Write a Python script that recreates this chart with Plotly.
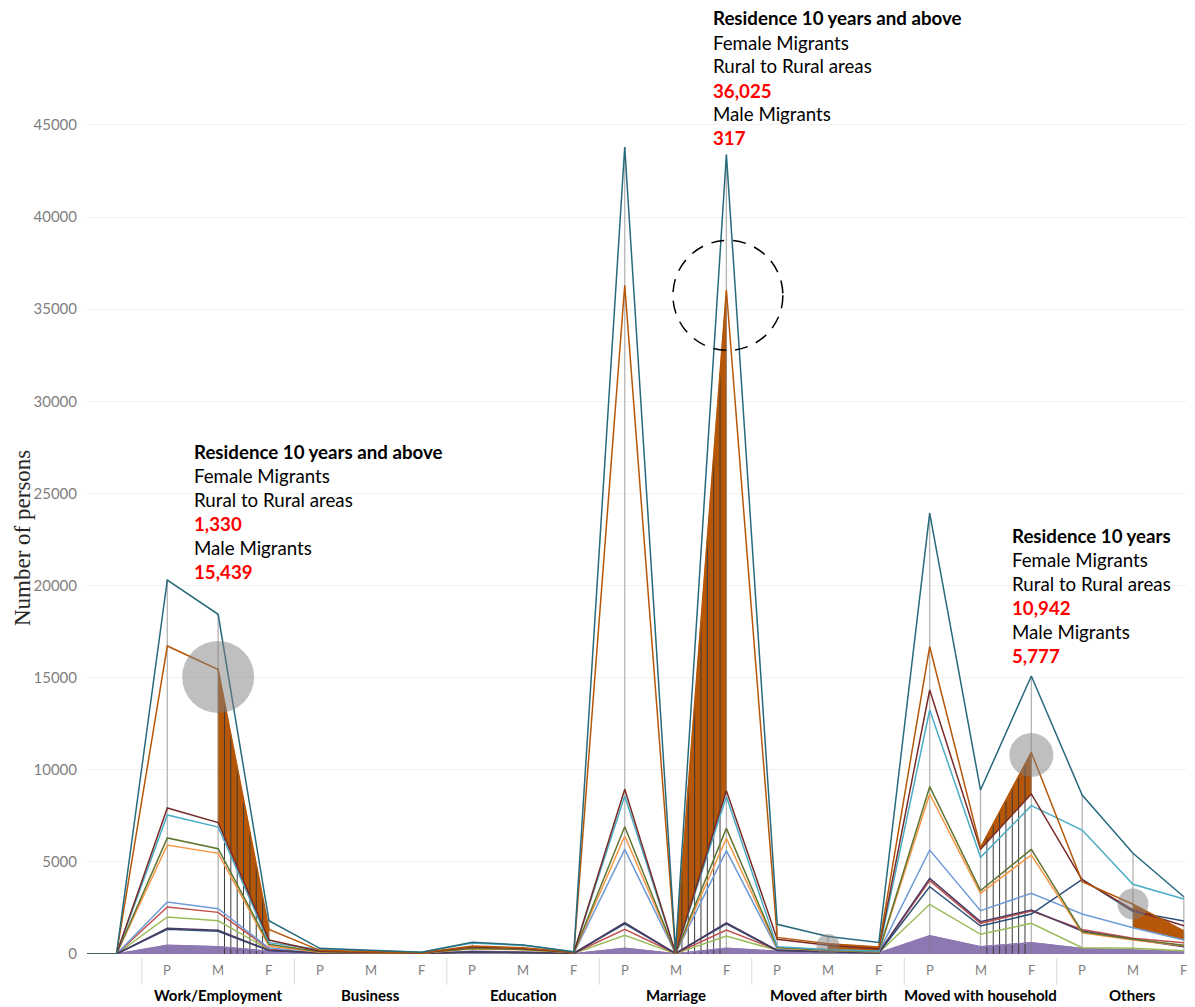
import plotly.graph_objects as go

# ---------------- data ----------------
groups = ["Work/Employment", "Business", "Education", "Marriage",
          "Moved after birth", "Moved with household", "Others"]
subs = ["P", "M", "F"]
y_ticks = [0, 5000, 10000, 15000, 20000, 25000, 30000, 35000, 40000, 45000]

# values for P, M, F of each group (21 positions)
dark_aqua = [20300, 18440, 1810, 310, 200, 100, 640, 490, 120, 43800, 150, 43400,
             1610, 950, 630, 23930, 8900, 15090, 8630, 5466, 3110]
dark_orange = [16720, 15439, 1330, 200, 120, 70, 430, 340, 100, 36300, 60, 36025,
               900, 560, 380, 16680, 5777, 10942, 3926, 2700, 1250]
dark_red = [7925, 7130, 760, 150, 100, 60, 380, 300, 90, 8940, 50, 8865,
            800, 470, 270, 14330, 5683, 8685, 4017, 2390, 1537]
aqua = [7545, 6890, 615, 250, 170, 90, 600, 470, 110, 8577, 50, 8540,
        400, 250, 150, 13244, 5249, 8050, 6730, 3783, 2983]
dark_green = [6300, 5715, 525, 120, 80, 50, 300, 250, 80, 6910, 40, 6820,
              350, 200, 120, 9081, 3437, 5683, 1200, 800, 480]
orange = [5917, 5465, 430, 100, 70, 40, 280, 230, 70, 6406, 40, 6280,
          330, 190, 110, 8684, 3294, 5374, 1150, 760, 450]
blue = [2823, 2460, 320, 80, 60, 30, 150, 120, 50, 5683, 30, 5607,
        250, 150, 100, 5645, 2352, 3294, 2171, 1430, 760]
red = [2550, 2260, 280, 70, 50, 30, 130, 110, 40, 1340, 30, 1300,
       220, 130, 80, 3980, 1666, 2334, 1330, 850, 614]
green = [2010, 1800, 240, 50, 40, 20, 100, 80, 30, 1015, 20, 977,
         200, 120, 70, 2697, 1069, 1666, 344, 310, 180]
dark_purple = [1400, 1290, 200, 60, 40, 20, 120, 100, 40, 1700, 30, 1690,
               200, 120, 70, 4108, 1755, 2388, 1250, 800, 397]
dark_blue = [1340, 1230, 190, 55, 40, 20, 110, 90, 40, 1640, 30, 1640,
             190, 110, 60, 3654, 1520, 2171, 4054, 2300, 1791]
purple = [470, 400, 150, 30, 20, 10, 60, 50, 20, 310, 20, 310,
          150, 100, 60, 994, 400, 614, 300, 220, 120]

# annotation texts
notes = [
    ["Residence 10 years and above", "Female Migrants", "Rural to Rural areas",
     "1,330", "Male Migrants", "15,439"],
    ["Residence 10 years and above", "Female Migrants", "Rural to Rural areas",
     "36,025", "Male Migrants", "317"],
    ["Residence 10 years", "Female Migrants", "Rural to Rural areas",
     "10,942", "Male Migrants", "5,777"],
]

# ---------------- styling / layout helpers ----------------
lines = [
    ("purple", purple, "#8E78B2"),
    ("green", green, "#9BBB59"),
    ("red", red, "#C0504D"),
    ("blue", blue, "#6F9BD6"),
    ("dark_blue", dark_blue, "#2C4D75"),
    ("dark_purple", dark_purple, "#4D3B62"),
    ("orange", orange, "#F79646"),
    ("dark_green", dark_green, "#5F7530"),
    ("aqua", aqua, "#4BACC6"),
    ("dark_red", dark_red, "#772C2A"),
    ("dark_orange", dark_orange, "#B65708"),
    ("dark_aqua", dark_aqua, "#276A7C"),
]
series = {name: vals for name, vals, _ in lines}

n = len(groups) * 3
xs = list(range(n))
lead_x = [-3, -1]

fig = go.Figure()

# purple area at the bottom
fig.add_trace(go.Scatter(x=lead_x + xs, y=[0, 0] + purple, mode="lines",
                         fill="tozeroy", fillcolor="#8E78B2",
                         line=dict(color="#8E78B2", width=1), hoverinfo="skip"))

# highlighted segments (M -> F) between dark orange and a lower series
highlights = [(0, "dark_red"), (3, "dark_red"), (4, "blue"), (5, "dark_red"), (6, "blue")]
for g, low in highlights:
    m, f = 3 * g + 1, 3 * g + 2
    fig.add_trace(go.Scatter(
        x=[m, f, f, m, m],
        y=[dark_orange[m], dark_orange[f], series[low][f], series[low][m], dark_orange[m]],
        mode="lines", fill="toself", fillcolor="#B65708",
        line=dict(color="#B65708", width=0.5), hoverinfo="skip"))

# drop lines at each category
dx, dy = [], []
for i in xs:
    top = max(vals[i] for _, vals, _ in lines)
    dx += [i, i, None]
    dy += [0, top, None]
fig.add_trace(go.Scatter(x=dx, y=dy, mode="lines",
                         line=dict(color="rgba(120,120,120,0.55)", width=1.3),
                         hoverinfo="skip"))

# hatch lines inside highlighted segments
hx, hy = [], []
for g in [0, 3, 5]:
    m, f = 3 * g + 1, 3 * g + 2
    for k in range(1, 8):
        t = k / 8
        hx += [m + t, m + t, None]
        hy += [0, dark_orange[m] + t * (dark_orange[f] - dark_orange[m]), None]
fig.add_trace(go.Scatter(x=hx, y=hy, mode="lines",
                         line=dict(color="#3A3A3A", width=1), hoverinfo="skip"))

# series lines
for name, vals, col in lines:
    fig.add_trace(go.Scatter(x=lead_x + xs, y=[0, 0] + vals, mode="lines",
                             line=dict(color=col, width=1.5), hoverinfo="skip"))

# ---------------- shapes ----------------
shapes = []
def circle(xc, yc, r, **kw):
    d = dict(type="circle", xref="x", yref="y", xsizemode="pixel", ysizemode="pixel",
             xanchor=xc, yanchor=yc, x0=-r, x1=r, y0=-r, y1=r, layer="above")
    d.update(kw)
    return d

shapes.append(circle(1, 15036, 36, fillcolor="rgba(128,128,128,0.5)", line=dict(width=0)))
shapes.append(circle(17, 10800, 22, fillcolor="rgba(128,128,128,0.5)", line=dict(width=0)))
shapes.append(circle(19, 2714, 15.5, fillcolor="rgba(128,128,128,0.5)", line=dict(width=0)))
shapes.append(circle(13, 460, 11.5, fillcolor="rgba(128,128,128,0.5)", line=dict(width=0)))
shapes.append(circle(11.03, 35750, 55, fillcolor="rgba(0,0,0,0)",
                     line=dict(color="black", width=1.5, dash="13px,9px")))

# separators between category groups
for g in range(len(groups)):
    shapes.append(dict(type="line", xref="x", yref="paper", x0=3 * g - 0.5, x1=3 * g - 0.5,
                       y0=-0.005, y1=-0.037, line=dict(color="#D9D9D9", width=1)))

# ---------------- annotations ----------------
ann = []
for i in xs:
    ann.append(dict(x=i, y=-0.0192, xref="x", yref="paper", text=subs[i % 3],
                    yanchor="middle", showarrow=False,
                    font=dict(family="Lato", size=13, color="#7F7F7F")))
for g, name in enumerate(groups):
    ann.append(dict(x=3 * g + 1, y=-0.0495, xref="x", yref="paper", text="<b>%s</b>" % name,
                    yanchor="middle", showarrow=False,
                    font=dict(family="Lato", size=15, color="#000000")))

PH = 832.0
def py(pix):
    return (954 - pix) / PH

block_pos = [(0.49, 452), (10.70, 18.5), (16.585, 536)]
for (bx, by), texts in zip(block_pos, notes):
    for j, t in enumerate(texts):
        if j == 0:
            txt, col = "<b>%s</b>" % t, "#000000"
        elif j in (3, 5):
            txt, col = "<b>%s</b>" % t, "#FF0000"
        else:
            txt, col = t, "#000000"
        ann.append(dict(x=bx, y=py(by + 24 * j), xref="x", yref="paper", text=txt,
                        xanchor="left", yanchor="middle", showarrow=False,
                        font=dict(family="Lato", size=18.7, color=col)))

ann.append(dict(x=(22 - 87) / 1108.0, y=0.5, xref="paper", yref="paper",
                xanchor="center", yanchor="middle",
                text="Number of persons", textangle=-90, showarrow=False,
                font=dict(family="Liberation Serif", size=23, color="#262626")))

fig.update_layout(
    width=1187, height=999,
    margin=dict(l=79, r=0, t=114, b=53),
    paper_bgcolor="white", plot_bgcolor="white",
    showlegend=False,
    shapes=shapes, annotations=ann,
    xaxis=dict(range=[-1.58, 20.22], showticklabels=False, showgrid=False,
               zeroline=False, showline=False, ticks=""),
    yaxis=dict(range=[0, 45160], tickvals=y_ticks, tickformat="d", showgrid=True,
               gridcolor="#F2F2F2", zeroline=False, showline=False, ticks="",
               ticklabelstandoff=9,
               tickfont=dict(family="Lato", size=15, color="#7F7F7F")),
)

fig.write_html("out.html")
